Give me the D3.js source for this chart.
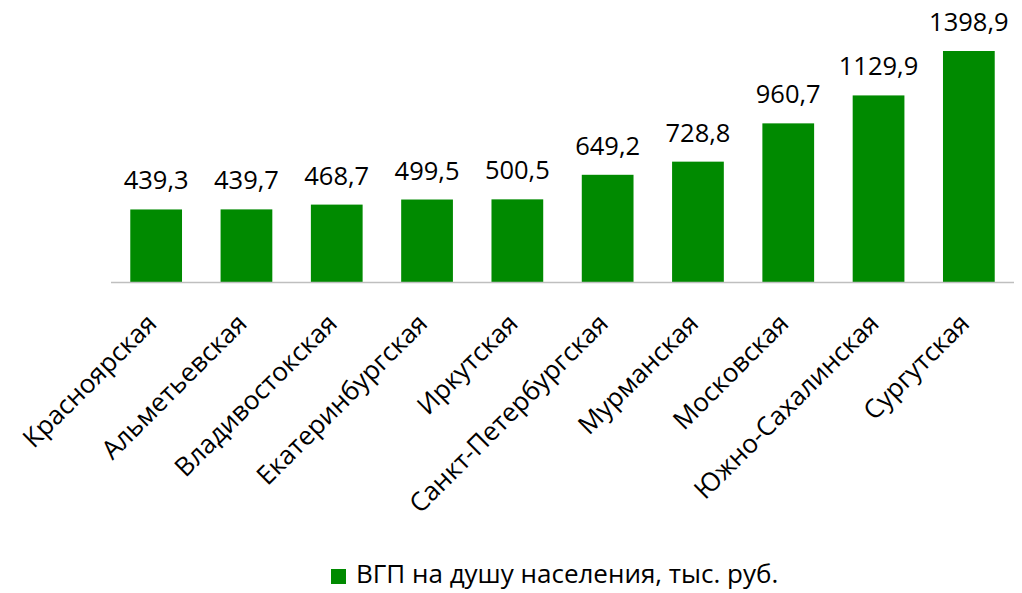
<!DOCTYPE html>
<html><head><meta charset="utf-8">
<script src="https://cdn.jsdelivr.net/npm/d3@7/dist/d3.min.js"></script>
<style>body{margin:0;background:#fff}svg{display:block}text{font-family:"Open Sans",sans-serif;fill:#000}</style>
</head><body><svg id="c" width="1022" height="593"></svg>
<script>
const categories = ["Красноярская","Альметьевская","Владивостокская","Екатеринбургская","Иркутская","Санкт-Петербургская","Мурманская","Московская","Южно-Сахалинская","Сургутская"];
const values = [439.3,439.7,468.7,499.5,500.5,649.2,728.8,960.7,1129.9,1398.9];
const valueLabels = ["439,3","439,7","468,7","499,5","500,5","649,2","728,8","960,7","1129,9","1398,9"];
const seriesName = "ВГП на душу населения, тыс. руб.";
const color = "#008a00";

const svg = d3.select("#c");
const x = d3.scaleBand().domain(categories).range([111,1014]).paddingInner(0.427).paddingOuter(0.2135);
const y = d3.scaleLinear().domain([0,1398.9]).range([282,51]);

svg.selectAll("rect.bar").data(values).join("rect").attr("class","bar")
  .attr("x",(d,i)=>x(categories[i])).attr("width",x.bandwidth())
  .attr("y",d=>y(d)).attr("height",d=>y(0)-y(d)).attr("fill",color);

svg.append("line").attr("x1",111).attr("x2",1014).attr("y1",y(0)+0.5).attr("y2",y(0)+0.5)
  .attr("stroke","#bfbfbf").attr("stroke-width",1.5);

svg.selectAll("text.val").data(values).join("text").attr("class","val")
  .attr("x",(d,i)=>x(categories[i])+x.bandwidth()/2).attr("y",d=>y(d)-20)
  .attr("text-anchor","middle").attr("font-size",25.5).text((d,i)=>valueLabels[i]);

const xAxis = d3.axisBottom(x).tickSize(0).tickPadding(0);
const g = svg.append("g").attr("transform",`translate(0,${y(0)})`).call(xAxis);
g.select(".domain").remove();
g.selectAll(".tick text").attr("font-size",26).attr("font-family","Open Sans, sans-serif").attr("fill","#000")
  .attr("text-anchor","end").attr("dy",0).attr("y",0)
  .attr("transform","translate(2,43) rotate(-45)");

const lg = svg.append("g");
lg.append("rect").attr("x",331).attr("y",569).attr("width",15).attr("height",15).attr("fill",color);
lg.append("text").attr("x",356).attr("y",583).attr("font-size",26).text(seriesName);
</script></body></html>
